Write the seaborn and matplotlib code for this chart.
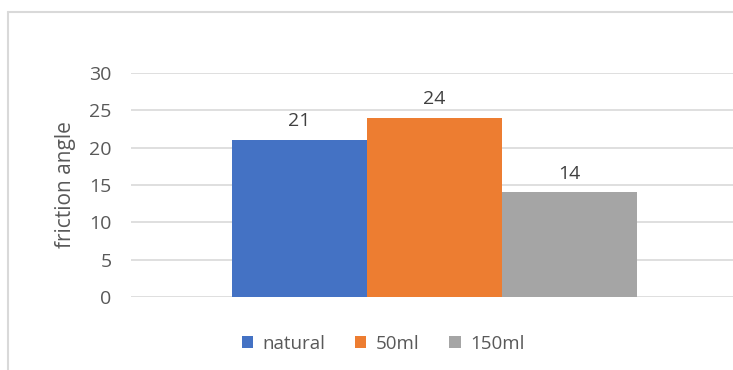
import matplotlib
matplotlib.use("Agg")
import matplotlib.pyplot as plt
import seaborn as sns
import pandas as pd
from matplotlib.lines import Line2D
from matplotlib.patches import Patch

# Data
series = ["natural", "50ml", "150ml"]
values = [21, 24, 14]
colors = ["#4472C4", "#ED7D31", "#A5A5A5"]
y_ticks = [0, 5, 10, 15, 20, 25, 30]

sns.set_theme(style="white")
plt.rcParams["font.family"] = ["Open Sans", "DejaVu Sans"]

df = pd.DataFrame({"group": [""] * len(series), "series": series, "value": values})

W, H = 733, 370
fig = plt.figure(figsize=(W / 100, H / 100), dpi=100)
ax = fig.add_axes([131 / W, 73 / H, 607 / W, 224 / H])

sns.barplot(data=df, x="group", y="value", hue="series", hue_order=series,
            palette=colors, width=0.667, saturation=1, ax=ax, legend=False,
            edgecolor="none", linewidth=0)

ax.set_xlim(-0.5, 0.5)
ax.set_ylim(0, 30)
ax.set_yticks(y_ticks)
ax.set_yticklabels([str(t) for t in y_ticks], color="#595959", fontsize=14)
ax.tick_params(axis="y", length=0, pad=14)
ax.set_xticks([])
ax.set_xlabel("")
ax.set_ylabel("")
ax.yaxis.grid(True, color="#D9D9D9", linewidth=1.2)
ax.set_axisbelow(True)
for s in ax.spines.values():
    s.set_visible(False)

fig.text(65 / W, 1 - 185 / H, "friction angle", rotation=90, ha="center", va="center",
         color="#595959", fontsize=15)

# value labels
for cont in ax.containers:
    ax.bar_label(cont, fmt="%d", padding=7, color="#404040", fontsize=14)

# chart frame
fig.add_artist(Line2D([8 / W, 8 / W], [0, 1 - 12 / H], color="#D9D9D9", lw=1.5,
                      transform=fig.transFigure))
fig.add_artist(Line2D([8 / W, 1], [1 - 12 / H, 1 - 12 / H], color="#D9D9D9", lw=1.5,
                      transform=fig.transFigure))

handles = [Patch(facecolor=c, edgecolor="none", label=s) for s, c in zip(series, colors)]
fig.legend(handles=handles, loc="center", bbox_to_anchor=(383 / W, 1 - 344 / H),
           ncol=3, frameon=False, fontsize=13.5, labelcolor="#595959",
           handlelength=0.6, handleheight=0.6, handletextpad=0.5, columnspacing=1.6)

fig.savefig("out.png", dpi=100)
